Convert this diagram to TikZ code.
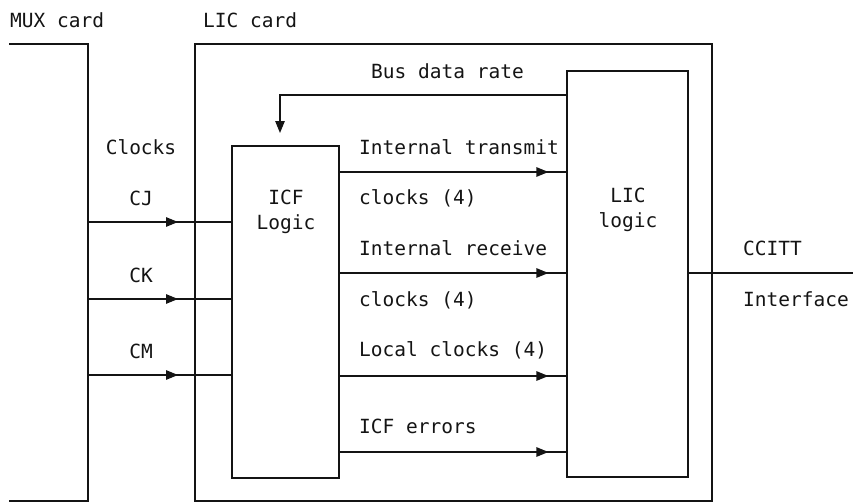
\documentclass[tikz,border=0pt]{standalone}
\usepackage{fontspec}
\setmonofont{DejaVu Sans Mono}
\usetikzlibrary{arrows.meta,decorations.markings}
\definecolor{lcink}{RGB}{20,20,20}
\def\lcIn#1#2#3{%
  \coordinate (mux#1) at (88,#2);
  \node[lctxt, anchor=center] (lbl#1) at (141,{#2-24}) {#3};
  \draw[lcwire, lcmid=90pt] (mux#1) -- (icf.west |- mux#1);}
\def\lcOut#1#2{%
  \coordinate (out#1) at (339,#2);
  \draw[lcwire, lcmid=-18pt] (icf.east |- out#1) -- (lic.west |- out#1);}
\def\lcLab#1#2#3{\node[lctxt, anchor=west] (#1) at (359,#2) {#3};}

\begin{document}
\begin{tikzpicture}[
    x=1pt, y=-1pt,
    lcwire/.style = {lcink, line width=1.2pt},
    lcbox/.style  = {draw=lcink, line width=1.2pt, inner sep=0pt},
    lctxt/.style  = {font=\ttfamily\fontsize{19.5}{25}\selectfont, text=lcink, inner sep=0pt},
    lcmid/.style  = {postaction={decorate}, decoration={markings,
        mark=at position #1 with {\arrow{Triangle[length=12pt,width=9.5pt]}}}}]

  \useasboundingbox (0,0) rectangle (853,503);

  %% ---- cards -------------------------------------------------------
  \draw[lcwire] (9,44) -- (88,44) -- (88,501) -- (9,501);
  \node[lctxt, anchor=west] (muxlbl) at (10,20) {MUX card};
  \node[lcbox, minimum width=517pt, minimum height=457pt] (liccard) at (453.5,272.5) {};
  \node[lctxt, anchor=west] (liclbl) at (203,20) {LIC card};

  %% ---- logic blocks ------------------------------------------------
  \node[lcbox, minimum width=107pt, minimum height=332pt] (icf) at (285.5,312) {};
  \node[lctxt, align=center] (icftxt) at (286,212) {ICF\\Logic};
  \node[lcbox, minimum width=121pt, minimum height=406pt] (lic) at (627.5,274) {};
  \node[lctxt, align=center] (lictxt) at (628,210) {LIC\\logic};

  %% ---- clocks from MUX ---------------------------------------------
  \node[lctxt] (clklbl) at (141,147) {Clocks};
  \lcIn{cj}{222}{CJ}
  \lcIn{ck}{299}{CK}
  \lcIn{cm}{375}{CM}

  %% ---- ICF to LIC --------------------------------------------------
  \lcOut{tx}{172}
  \lcOut{rx}{273}
  \lcOut{loc}{376}
  \lcOut{err}{452}
  \lcLab{txa}{147}{Internal transmit}
  \lcLab{txb}{198}{clocks (4)}
  \lcLab{rxa}{248}{Internal receive}
  \lcLab{rxb}{300}{clocks (4)}
  \lcLab{loca}{350}{Local clocks (4)}
  \lcLab{erra}{426.5}{ICF errors}

  %% ---- bus data rate -----------------------------------------------
  \coordinate (busin) at (280,133);
  \coordinate (busout) at (567,95);
  \draw[lcwire, -{Triangle[length=12pt,width=9.5pt]}] (lic.west |- busout) -| (busin);
  \node[lctxt] (buslbl) at (447.5,71) {Bus data rate};

  %% ---- CCITT interface ---------------------------------------------
  \coordinate (ccitt) at (853,273);
  \draw[lcwire] (lic.east |- ccitt) -- (ccitt);
  \node[lctxt, anchor=west] (ccitta) at (743,248) {CCITT};
  \node[lctxt, anchor=west] (ccittb) at (743,299) {Interface};
\end{tikzpicture}
\end{document}
